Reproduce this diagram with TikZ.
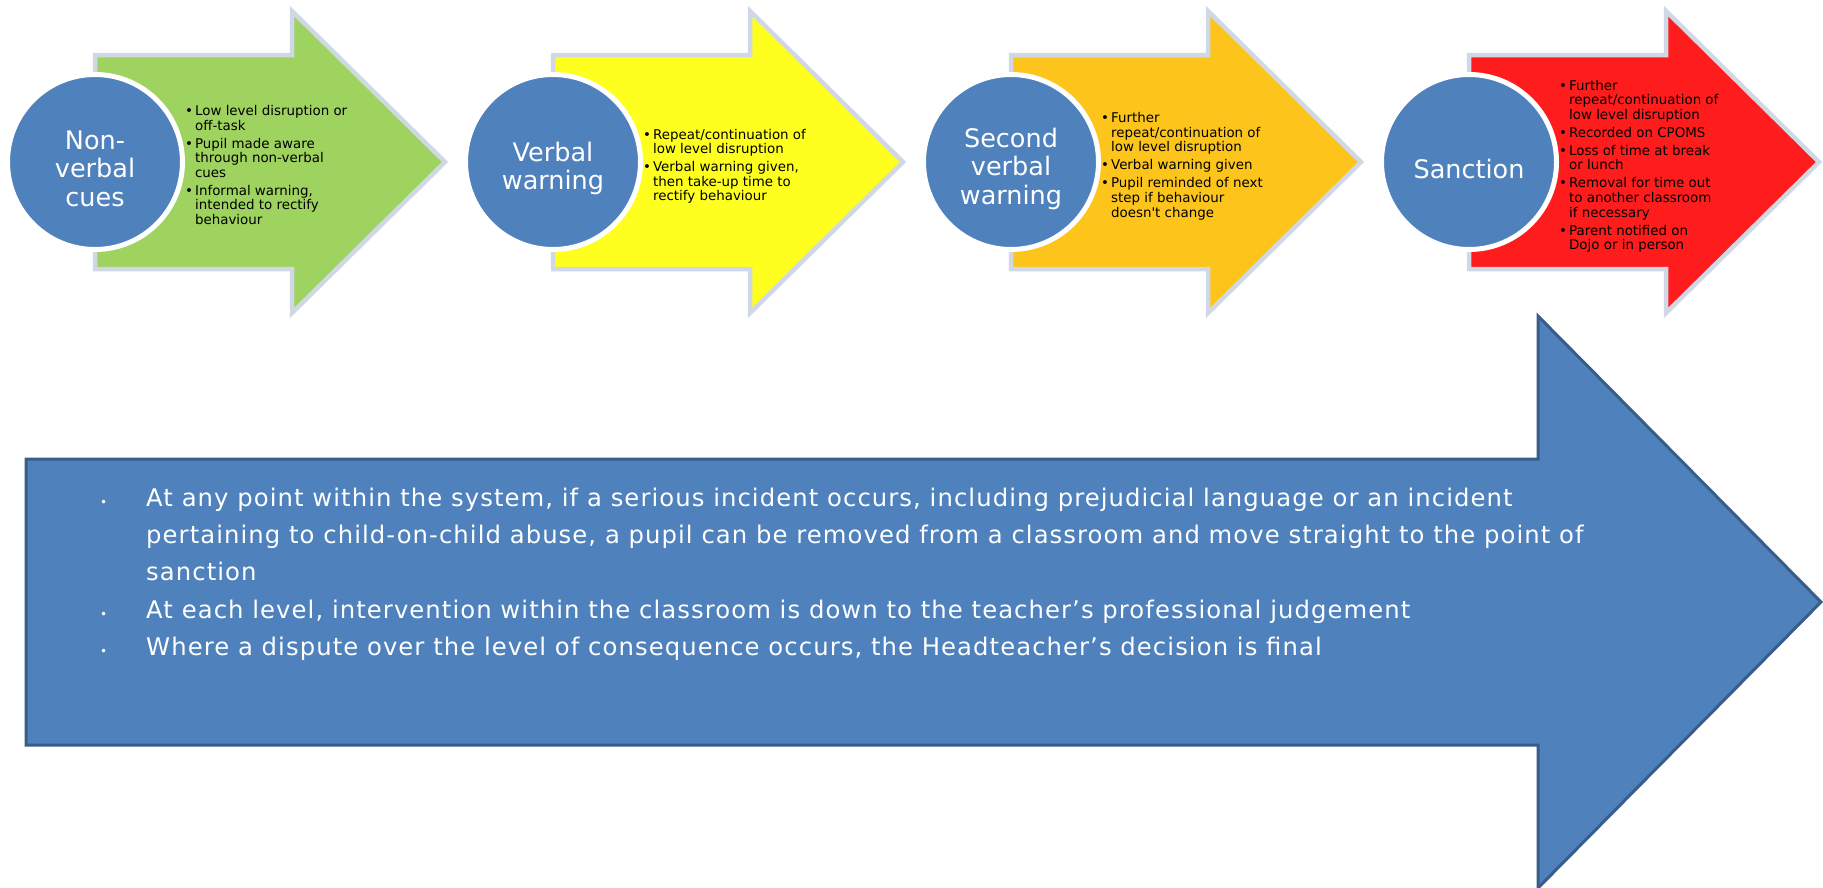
\documentclass[tikz,border=0pt]{standalone}
\usepackage{fontspec}
\setmainfont{DejaVu Sans}
\newfontfamily\rulesfont{DejaVu Sans}[LetterSpace=4.4]

\definecolor{stagegreen}{HTML}{9ED35F}
\definecolor{stageyellow}{HTML}{FFFF1F}
\definecolor{stageamber}{HTML}{FDC51C}
\definecolor{stagered}{HTML}{FF1C1C}
\definecolor{stageedge}{HTML}{D0D8E6}
\definecolor{ballblue}{HTML}{4F81BD}
\definecolor{bigedge}{HTML}{385D8A}

\tikzset{
	stagearrow/.style={draw=stageedge, line width=4.5pt},
	ball/.style={circle, fill=ballblue, draw=white, line width=5pt, minimum size=175pt, inner sep=0pt},
	balltext/.style={inner sep=0pt, text=white, align=center, font=\fontsize{25.5}{28.5}\selectfont},
	notes/.style={anchor=west, inner sep=0pt, align=left, font=\fontsize{13.4}{14.5}\selectfont},
	bigarrow/.style={fill=ballblue, draw=bigedge, line width=3pt},
	rules/.style={anchor=north west, inner sep=0pt, align=left, text=white,
		font=\rulesfont\fontsize{24.3}{37.3}\selectfont},
}
\newcommand{\bigbul}{\makebox[46pt][l]{\fontsize{12}{12}\selectfont\textbullet}}

\begin{document}
\begin{tikzpicture}[x=1pt,y=-1pt]
		\useasboundingbox (0,0) rectangle (1823,887);
		% big arrow at the bottom
		\draw [bigarrow] (26,459) -- (1538,459) -- (1538,316) -- (1821,602)
			-- (1538,888) -- (1538,745) -- (26,745) -- cycle;
		% four stages
		\foreach \i/\col/\txt in {1/stagegreen/{Non-\\verbal\\cues},2/stageyellow/{Verbal\\warning},
				3/stageamber/{Second\\verbal\\warning},4/stagered/{Sanction}}{%
			\begin{scope}[xshift={458*(\i-1)}]
				\draw [stagearrow, fill=\col] (95,55) -- (292,55) -- (292,11) -- (445,162)
					-- (292,313) -- (292,269) -- (95,269) -- cycle;
				\node [ball] (c\i) at (95,162) {};
				\node [balltext] (t\i) at (95,168.5) {\txt};
			\end{scope}
			}
		\node [notes] (n1) at (185,167) {\begin{tabular}{@{}l@{\hspace{2pt}}l@{}}
			\textbullet & Low level disruption or\\ & off-task\\[3.5pt]
			\textbullet & Pupil made aware\\ & through non-verbal\\ & cues\\[3.5pt]
			\textbullet & Informal warning,\\ & intended to rectify\\ & behaviour
			\end{tabular}};
		\node [notes] (n2) at (643,167) {\begin{tabular}{@{}l@{\hspace{2pt}}l@{}}
			\textbullet & Repeat/continuation of\\ & low level disruption\\[3.5pt]
			\textbullet & Verbal warning given,\\ & then take-up time to\\ & rectify behaviour
			\end{tabular}};
		\node [notes] (n3) at (1101,167) {\begin{tabular}{@{}l@{\hspace{2pt}}l@{}}
			\textbullet & Further\\ & repeat/continuation of\\ & low level disruption\\[3.5pt]
			\textbullet & Verbal warning given\\[3.5pt]
			\textbullet & Pupil reminded of next\\ & step if behaviour\\ & doesn\textquotesingle t change
			\end{tabular}};
		\node [notes] (n4) at (1559,167) {\begin{tabular}{@{}l@{\hspace{2pt}}l@{}}
			\textbullet & Further\\ & repeat/continuation of\\ & low level disruption\\[3.5pt]
			\textbullet & Recorded on CPOMS\\[3.5pt]
			\textbullet & Loss of time at break\\ & or lunch\\[3.5pt]
			\textbullet & Removal for time out\\ & to another classroom\\ & if necessary\\[3.5pt]
			\textbullet & Parent notified on\\ & Dojo or in person
			\end{tabular}};
		\node [rules] (r) at (100,480) {\begin{tabular}{@{}l@{}l@{}}
			\bigbul & At any point within the system, if a serious incident occurs, including prejudicial language or an incident\\
			& pertaining to child-on-child abuse, a pupil can be removed from a classroom and move straight to the point of\\
			& sanction\\
			\bigbul & At each level, intervention within the classroom is down to the teacher’s professional judgement\\
			\bigbul & Where a dispute over the level of consequence occurs, the Headteacher’s decision is final
			\end{tabular}};
	\end{tikzpicture}
\end{document}
